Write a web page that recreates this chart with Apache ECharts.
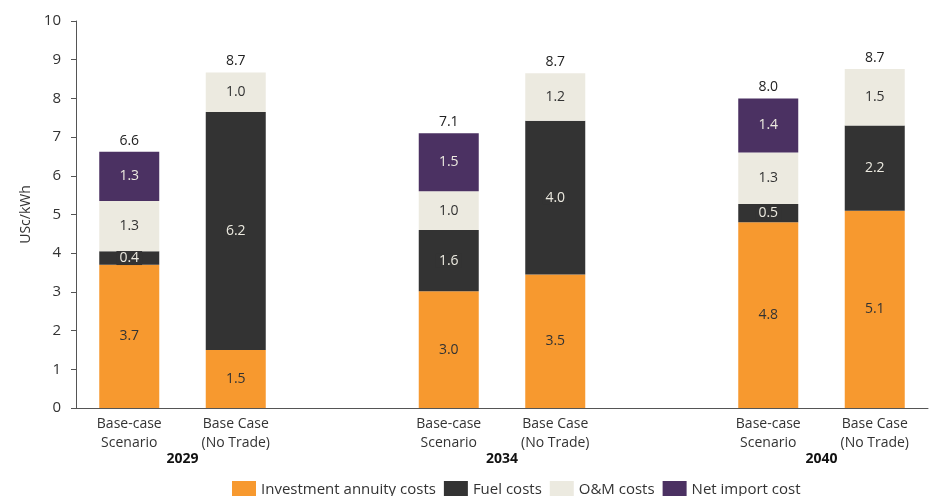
<!DOCTYPE html>
<html>
<head>
<meta charset="utf-8">
<script src="https://cdn.jsdelivr.net/npm/echarts@6/dist/echarts.min.js"></script>
<style>html,body{margin:0;padding:0;background:#fff;}#c{width:931px;height:496px;}</style>
</head>
<body>
<div id="c"></div>
<script>
var categories = ['Base-case\nScenario', 'Base Case\n(No Trade)', '', 'Base-case\nScenario', 'Base Case\n(No Trade)', '', 'Base-case\nScenario', 'Base Case\n(No Trade)'];
var yearLabels = {1: '2029', 4: '2034', 7: '2040'};
var investment = [3.7, 1.5, null, 3.02, 3.45, null, 4.8, 5.1];
var fuel = [0.35, 6.15, null, 1.58, 3.97, null, 0.47, 2.2];
var om = [1.3, 1.02, null, 1.0, 1.23, null, 1.33, 1.46];
var netImport = [1.27, null, null, 1.5, null, null, 1.4, null];
var totals = [6.6, 8.7, null, 7.1, 8.7, null, 8.0, 8.7];
var yTicks = {min: 0, max: 10, interval: 1};

var FONT = 'Open Sans';
function fmt(p) {
  var v = p.value;
  if (v == null || v === 0) return '';
  return (Math.round(v * 10) / 10).toFixed(1);
}
function seg(name, data, color, labelColor, extra) {
  return {
    name: name, type: 'bar', stack: 'total', data: data, barWidth: 60,
    itemStyle: {color: color},
    label: Object.assign({show: true, position: 'inside', color: labelColor, fontFamily: FONT, fontSize: 14, formatter: fmt}, extra || {})
  };
}
var chart = echarts.init(document.getElementById('c'));
chart.setOption({
  animation: false,
  textStyle: {fontFamily: FONT},
  grid: {left: 76, top: 21, bottom: 88, width: 866, containLabel: false},
  legend: {
    bottom: -7, left: 227,
    itemWidth: 24, itemHeight: 17, itemGap: 8,
    icon: 'rect',
    textStyle: {fontFamily: FONT, fontSize: 15, color: '#333'},
    data: ['Investment annuity costs', 'Fuel costs', 'O&M costs', 'Net import cost']
  },
  xAxis: [{
    type: 'category', data: categories,
    axisLine: {lineStyle: {color: '#555', width: 1}},
    axisTick: {show: false},
    axisLabel: {color: '#333', fontFamily: FONT, fontSize: 14, lineHeight: 19, margin: 7, interval: 0}
  }, {
    type: 'value', min: 0, max: 8, interval: 1, position: 'bottom', offset: 44,
    axisLine: {show: false}, axisTick: {show: false}, splitLine: {show: false},
    axisLabel: {color: '#111', fontFamily: FONT, fontSize: 14, fontWeight: 'bold', margin: 0,
      formatter: function (v) { return yearLabels[v] || ''; }}
  }],
  yAxis: {
    type: 'value', min: yTicks.min, max: yTicks.max, interval: yTicks.interval,
    name: 'USc/kWh', nameLocation: 'middle', nameGap: 43,
    nameTextStyle: {color: '#333', fontFamily: FONT, fontSize: 14},
    axisLine: {show: true, lineStyle: {color: '#555'}},
    axisTick: {show: true, inside: false, length: 5, lineStyle: {color: '#555'}},
    axisLabel: {color: '#333', fontFamily: FONT, fontSize: 15, margin: 15},
    splitLine: {show: false}
  },
  series: [
    seg('Investment annuity costs', investment, '#F7992F', '#333333'),
    seg('Fuel costs', fuel, '#333333', '#ECEAE0', {backgroundColor: '#333333', padding: [0, 3]}),
    seg('O&M costs', om, '#ECEAE0', '#333333'),
    seg('Net import cost', netImport, '#4B3162', '#ECEAE0'),
    {
      name: 'Total', type: 'bar', stack: 'total', barWidth: 60,
      data: totals.map(function (t) { return t == null ? null : 0; }),
      itemStyle: {color: 'transparent'},
      label: {show: true, position: 'top', distance: 4, color: '#222', fontFamily: FONT, fontSize: 14,
        formatter: function (p) { return totals[p.dataIndex] == null ? '' : totals[p.dataIndex].toFixed(1); }}
    }
  ]
});
</script>
</body>
</html>
